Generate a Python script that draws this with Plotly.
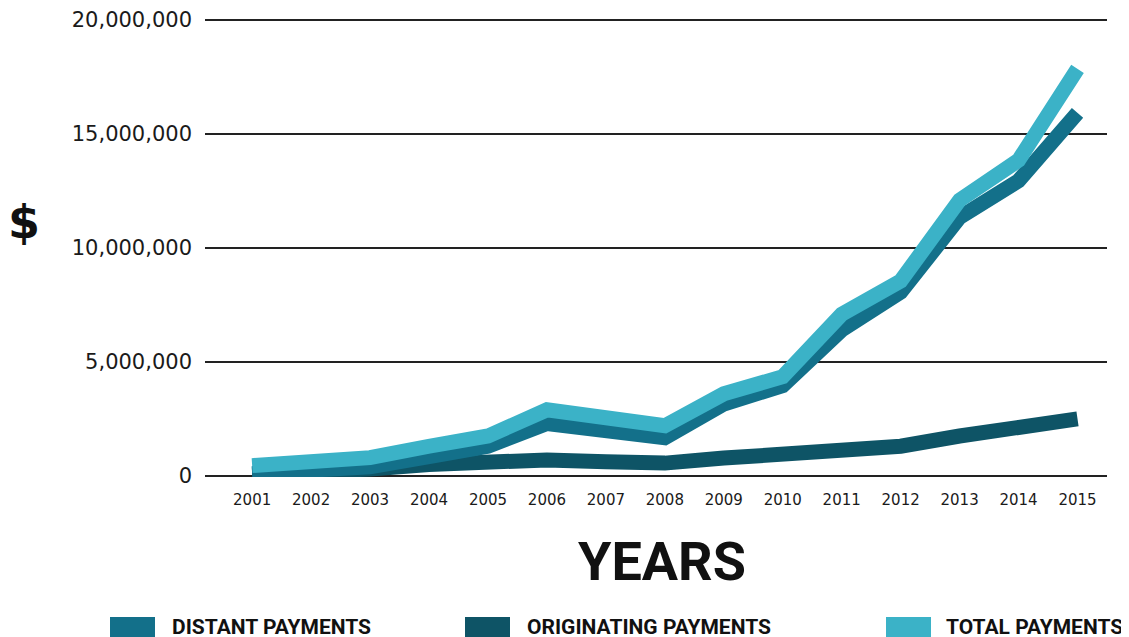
import plotly.graph_objects as go

years = [2001, 2002, 2003, 2004, 2005, 2006, 2007, 2008, 2009, 2010, 2011, 2012, 2013, 2014, 2015]
distant = [0.10, 0.20, 0.40, 0.85, 1.30, 2.30, 2.00, 1.67, 3.15, 3.96, 6.40, 8.06, 11.34, 12.95, 15.93]
originating = [0.05, 0.10, 0.30, 0.50, 0.65, 0.70, 0.62, 0.56, 0.78, 0.93, 1.08, 1.30, 1.75, 2.20, 2.50]
total = [0.45, 0.60, 0.80, 1.30, 1.75, 2.90, 2.55, 2.20, 3.60, 4.35, 7.09, 8.55, 12.10, 13.85, 17.86]
y_ticks = [0, 5000000, 10000000, 15000000, 20000000]
y_labels = ["0", "5,000,000", "10,000,000", "15,000,000", "20,000,000"]

C_DIST = "#13708a"
C_ORIG = "#0e5466"
C_TOT = "#3bb2c7"
COND = "Roboto, Liberation Sans"

W, H = 1129, 637
OFF = 8  # page body margin
# plot area in reference pixels: x 205..1107, y 19..477
PL, PR, PT, PB = 205 - OFF, 1107 - OFF, 19 - OFF, 477 - OFF
L, R, T, B = PL, W - PR, PT, H - PB

def px(x):
    return (x - OFF - PL) / (PR - PL)

def py(y):
    return (PB - (y - OFF)) / (PB - PT)

fig = go.Figure()
for name, vals, col in [("ORIGINATING PAYMENTS", originating, C_ORIG),
                        ("DISTANT PAYMENTS", distant, C_DIST),
                        ("TOTAL PAYMENTS", total, C_TOT)]:
    fig.add_trace(go.Scatter(x=years, y=[v * 1e6 for v in vals], mode="lines", name=name,
                             line=dict(color=col, width=15), showlegend=False,
                             hoverinfo="x+y+name"))

fig.update_layout(
    width=W, height=H,
    margin=dict(l=L, r=R, t=T, b=B, autoexpand=False),
    paper_bgcolor="white", plot_bgcolor="white",
    showlegend=False,
    xaxis=dict(range=[2000.2, 2015.5], tickmode="array", tickvals=years,
               ticktext=[str(y) for y in years], showgrid=False, zeroline=False,
               showline=False, ticks="", ticklabelstandoff=12, automargin=False,
               tickfont=dict(family="DejaVu Sans", size=15, color="#1a1a1a")),
    yaxis=dict(range=[-50000, 20050000], tickmode="array", tickvals=y_ticks, ticktext=y_labels,
               showgrid=True, gridcolor="#222222", gridwidth=2, zeroline=False,
               showline=False, ticks="", ticklabelstandoff=12, automargin=False,
               tickfont=dict(family="DejaVu Sans", size=21, color="#1a1a1a")),
)

fig.add_annotation(x=px(24), y=py(222), xref="paper", yref="paper", xanchor="center",
                   yanchor="middle", text="<b>$</b>", showarrow=False,
                   font=dict(family="DejaVu Sans", size=46, color="#111"))
fig.add_annotation(x=px(662), y=py(561), xref="paper", yref="paper", xanchor="center",
                   yanchor="middle", text="<b>YEARS</b>", showarrow=False,
                   font=dict(family=COND, size=54, color="#111"))

legend_items = [("DISTANT PAYMENTS", C_DIST, 110, 170), ("ORIGINATING PAYMENTS", C_ORIG, 465, 525),
                ("TOTAL PAYMENTS", C_TOT, 886, 944)]
for label, col, x0, tx in legend_items:
    fig.add_shape(type="rect", xref="paper", yref="paper", x0=px(x0), x1=px(x0 + 45),
                  y0=py(637), y1=py(617), fillcolor=col, line=dict(width=0), layer="above")
    fig.add_annotation(x=px(tx), y=py(627), xref="paper", yref="paper", xanchor="left",
                       yanchor="middle", text="<b>" + label + "</b>", showarrow=False,
                       font=dict(family=COND, size=21, color="#111"))

fig.write_html("out.html")
